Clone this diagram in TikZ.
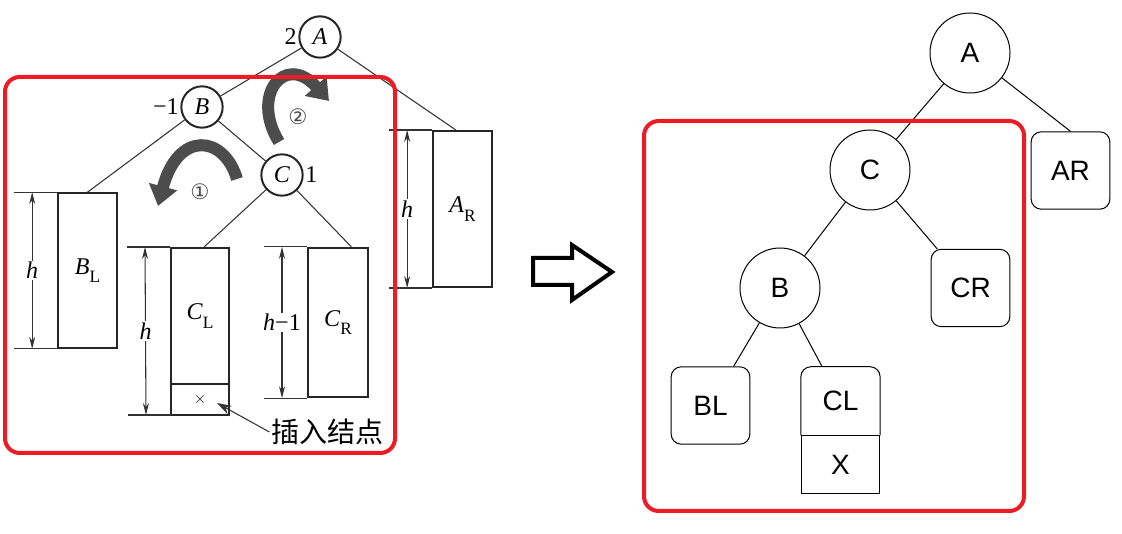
\documentclass[tikz,border=0pt]{standalone}
\usepackage{fontspec}
\setmainfont{Liberation Sans}
\newfontfamily\tms{Liberation Serif}
\newfontfamily\cjk{Noto Sans CJK SC}
\newfontfamily\dvs{DejaVu Sans}
\usetikzlibrary{arrows.meta,calc}
\definecolor{framered}{RGB}{237,28,36}
\newcommand\sbx[2]{\textit{#1}\raisebox{-0.35em}{\fontsize{13}{13}\selectfont #2}}

\begin{document}
\begin{tikzpicture}[x=0.75pt,y=-0.75pt,
  bk/.style={draw=black!85,line width=1.5pt,circle,minimum size=31pt,inner sep=0pt,font=\tms\itshape\fontsize{18}{20}\selectfont},
  blk/.style={draw=black!85,line width=1.5pt,inner sep=0pt,font=\tms\fontsize{18}{20}\selectfont},
  num/.style={font=\tms\fontsize{18}{20}\selectfont,inner sep=1pt},
  ln/.style={draw=black!80,line width=0.8pt},
  dimarr/.style={ln,{Stealth[length=9pt,width=4.5pt]}-{Stealth[length=9pt,width=4.5pt]}},
  turn/.style={draw=black!70,line width=9pt,-{Triangle[length=15pt,width=21pt]}},
  nd/.style={draw,circle,minimum size=60pt,inner sep=0pt,line width=0.75pt,font=\fontsize{21}{25}\selectfont},
  lf/.style={draw,rounded corners=7.5pt,minimum width=59pt,minimum height=58pt,inner sep=0pt,line width=0.75pt,font=\fontsize{21}{25}\selectfont},
  frame/.style={draw=framered,line width=3pt,rounded corners=11pt}]
\useasboundingbox (0,0) rectangle (1122,534);

% left: before rotation
\node[bk,label={[num]left:2}] (A) at (320,37) {A};
\node[bk,label={[num]left:−1}] (B) at (202,107) {B};
\node[bk,label={[num]right:1}] (C) at (282,175) {C};
\node[blk,minimum width=44pt,minimum height=116pt] (BL) at (87.5,270.5) {\sbx{B}{L}};
\node[blk,minimum width=43.5pt,minimum height=102pt] (CL) at (200,316) {\sbx{C}{L}};
\node[blk,draw=none,outer sep=0pt,minimum width=43.5pt,minimum height=22.5pt,anchor=north] (X) at (CL.south) {\fontsize{13}{13}\selectfont$\times$};
\draw[draw=black!85,line width=1.5pt] (X.north west) -- (X.south west) -- (X.south east) -- (X.north east);
\node[blk,minimum width=45pt,minimum height=112pt] (CR) at (338,322.5) {\sbx{C}{R}};
\node[blk,minimum width=44pt,minimum height=117pt] (AR) at (462.5,209) {\sbx{A}{R}};
\draw[ln] (A) -- (B);
\draw[ln] (A) -- ([xshift=-5pt]AR.north);
\draw[ln] (B) -- (BL.north);
\draw[ln] (B) -- (C);
\draw[ln] (C) -- ([xshift=3pt]CL.north);
\draw[ln] (C) -- ([xshift=10pt]CR.north);
\foreach \p/\q/\t in {BL.north west/BL.south west/\textit{h}, CL.north west/X.south west/\textit{h}, CR.north west/CR.south west/\textit{h}−1, AR.north west/AR.south west/\textit{h}} {
  \draw[ln] (\p) -- ++(-43,0);
  \draw[ln] (\q) -- ++(-43,0);
  \draw[dimarr] ($(\p)+(-25,0)$) -- ($(\q)+(-25,0)$) node[midway,fill=white,inner sep=1pt,font=\tms\fontsize{18}{20}\selectfont] {\t};
}
\node[font=\cjk\fontsize{21}{24}\selectfont,inner sep=1pt] (ins) at (327,432) {插入结点};
\draw[ln,-{Stealth[length=11pt,width=7pt]}] (ins.west) -- ($(X.east)+(-12,3)$);
% rotations
\draw[turn] (237,179) .. controls (224,135) and (178,130) .. (158,206);
\draw[turn] (279,142) .. controls (250,95) and (285,52) .. (329,101);
\node[font=\dvs\fontsize{16}{16}\selectfont,text=black!70] (n1) at (200,192) {①};
\node[font=\dvs\fontsize{16}{16}\selectfont,text=black!70] (n2) at (298,117) {②};

% big arrow
\draw[line width=3pt] (533,258) -- (572,258) -- (572,245) -- (612,272) -- (572,300) -- (572,285) -- (533,285) -- cycle;

% right: after rotation
\node[nd] (rA) at (970,53) {A};
\node[nd] (rC) at (870,170) {C};
\node[nd] (rB) at (780,288) {B};
\node[lf] (rAR) at (1070.5,170.5) {AR};
\node[lf] (rCR) at (970.5,288) {CR};
\node[lf] (rBL) at (710.5,405.5) {BL};
\node[minimum width=59pt,minimum height=51pt,inner sep=0pt,font=\fontsize{21}{25}\selectfont] (rCL) at (840.5,401) {CL};
\draw[line width=0.75pt,rounded corners=7.5pt] (rCL.south west) -- (rCL.north west) -- (rCL.north east) -- (rCL.south east);
\node[draw,line width=0.75pt,minimum width=59pt,minimum height=43.5pt,inner sep=0pt,anchor=north,font=\fontsize{21}{25}\selectfont] (rX) at (rCL.south) {X};
\draw[line width=0.75pt] (rA) -- (rC);
\draw[line width=0.75pt] (rA) -- (rAR.north);
\draw[line width=0.75pt] (rC) -- (rB);
\draw[line width=0.75pt] (rC) -- (rCR);
\draw[line width=0.75pt] (rB) -- (rBL);
\draw[line width=0.75pt] (rB) -- (rCL);

\draw[frame] (5,77) rectangle (395,453);
\draw[frame] (644,121) rectangle (1024,511);
\end{tikzpicture}
\end{document}
